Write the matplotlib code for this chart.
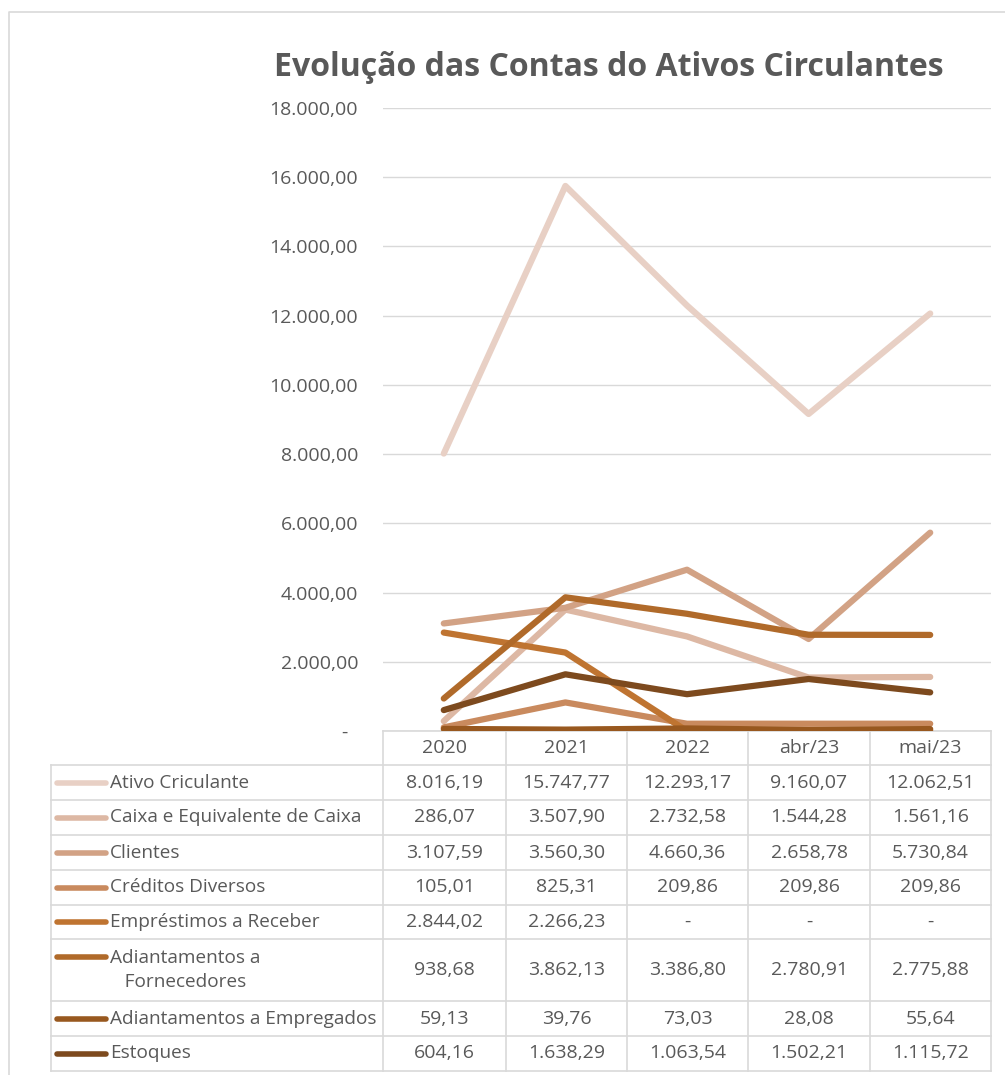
import numpy as np
import matplotlib.pyplot as plt
from matplotlib.ticker import FuncFormatter

# ---------------------------------------------------------------
# Data (values in the data table of the chart)
# ---------------------------------------------------------------
periods = ['2020', '2021', '2022', 'abr/23', 'mai/23']
series_names = ['Ativo Criculante', 'Caixa e Equivalente de Caixa', 'Clientes',
                'Créditos Diversos', 'Empréstimos a Receber',
                'Adiantamentos a\n   Fornecedores', 'Adiantamentos a Empregados',
                'Estoques']
ativo = [8016.19, 15747.77, 12293.17, 9160.07, 12062.51]
caixa = [286.07, 3507.90, 2732.58, 1544.28, 1561.16]
clientes = [3107.59, 3560.30, 4660.36, 2658.78, 5730.84]
creditos = [105.01, 825.31, 209.86, 209.86, 209.86]
emprestimos = [2844.02, 2266.23, 0, 0, 0]
adiant_forn = [938.68, 3862.13, 3386.80, 2780.91, 2775.88]
adiant_emp = [59.13, 39.76, 73.03, 28.08, 55.64]
estoques = [604.16, 1638.29, 1063.54, 1502.21, 1115.72]
all_series = [ativo, caixa, clientes, creditos, emprestimos,
              adiant_forn, adiant_emp, estoques]

colors = ['#E8D0C5', '#DDB8A4', '#D2A285', '#C98A5E',
          '#BF7431', '#B06A2A', '#98581F', '#7D4A1E']

plt.rcParams['font.family'] = ['Open Sans', 'DejaVu Sans']
text_color = '#595959'
grid_color = '#D9D9D9'
fs_txt = 14     # table values / tick text size
fs_lbl = 13.7   # series names in the table

W, H = 1005, 1075
fig = plt.figure(figsize=(W / 100, H / 100), dpi=100)

def fmt_br(v):
    if v == 0:
        return '-'
    s = f'{v:,.2f}'
    return s.replace(',', 'X').replace('.', ',').replace('X', '.')

# ---------------------------------------------------------------
# Overlay axes in pixel units for frame, title and table
# ---------------------------------------------------------------
bg = fig.add_axes([0, 0, 1, 1])
bg.set_xlim(0, W)
bg.set_ylim(H, 0)
bg.axis('off')

# chart frame
bg.plot([9, 9, W + 5], [H + 5, 12, 12], color='#D9D9D9', lw=1.2)

# title
bg.text(609, 67, 'Evolução das Contas do Ativos Circulantes', ha='center',
        va='center', fontsize=23, fontweight='bold', color=text_color)

# ---------------------------------------------------------------
# Line chart
# ---------------------------------------------------------------
px_left, px_right, px_top, px_bottom = 383, 991, 108, 731
ax = fig.add_axes([px_left / W, 1 - px_bottom / H,
                   (px_right - px_left) / W, (px_bottom - px_top) / H])
ax.set_facecolor('none')
x = np.arange(len(periods))
for vals, c in zip(all_series, colors):
    ax.plot(x, vals, color=c, lw=4.5, solid_capstyle='round',
            solid_joinstyle='round', zorder=3)
ax.set_xlim(-0.5, len(periods) - 0.5)
ax.set_ylim(0, 18000)
ax.set_yticks(np.arange(0, 18001, 2000))
ax.yaxis.set_major_formatter(
    FuncFormatter(lambda v, p: '-  ' if v == 0 else fmt_br(v)))
ax.grid(axis='y', color=grid_color, lw=1)
ax.set_xticks([])
ax.tick_params(axis='y', length=0, pad=18, labelsize=fs_txt, labelcolor=text_color)
for s in ax.spines.values():
    s.set_visible(False)

# ---------------------------------------------------------------
# Data table under the chart
# ---------------------------------------------------------------
col_edges = [383, 506, 627, 748, 870, 991]
row_edges = [765, 800, 835, 870, 905, 939, 1001, 1036, 1071]
tab_left = 51

# header row
for i, p in enumerate(periods):
    cx = (col_edges[i] + col_edges[i + 1]) / 2
    bg.text(cx, 748, p, ha='center', va='center', fontsize=fs_txt, color=text_color)
bg.plot([col_edges[0], col_edges[-1]], [731, 731], color=grid_color, lw=1.2)
for xe in col_edges:
    bg.plot([xe, xe], [731, row_edges[-1]], color=grid_color, lw=1.2)

# body rows
for ye in row_edges:
    bg.plot([tab_left, col_edges[-1]], [ye, ye], color=grid_color, lw=1.2)
bg.plot([tab_left, tab_left], [row_edges[0], row_edges[-1]], color=grid_color, lw=1.2)

for r, (name, vals, c) in enumerate(zip(series_names, all_series, colors)):
    y0, y1 = row_edges[r], row_edges[r + 1]
    ym = (y0 + y1) / 2
    if '\n' in name:
        key_y = ym - 13
        bg.text(110, ym, name, ha='left', va='center', fontsize=fs_lbl,
                color=text_color, linespacing=1.4)
    else:
        key_y = ym
        bg.text(110, ym, name, ha='left', va='center', fontsize=fs_lbl,
                color=text_color)
    bg.plot([57, 106], [key_y, key_y], color=c, lw=4, solid_capstyle='round')
    for i, v in enumerate(vals):
        cx = (col_edges[i] + col_edges[i + 1]) / 2
        bg.text(cx, ym, fmt_br(v), ha='center', va='center', fontsize=fs_txt,
                color=text_color)

fig.savefig('out.png', dpi=100)
